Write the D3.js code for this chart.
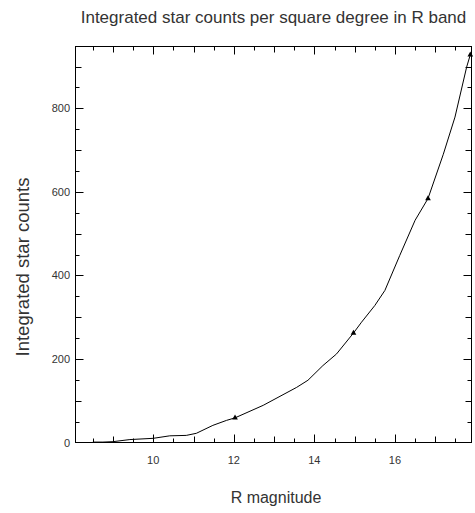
<!DOCTYPE html>
<html>
<head>
<meta charset="utf-8">
<script src="https://cdn.jsdelivr.net/npm/d3@7"></script>
<style>
  body { margin: 0; background: #fff; }
  text { font-family: "Liberation Sans", Arial, sans-serif; fill: #333; }
</style>
</head>
<body>
<svg id="chart"></svg>
<script>
var width = 475, height = 513;

// curve
var magnitudes = [8.5, 8.75, 9.0, 9.42, 10.0, 10.41, 10.82, 11.07, 11.48, 11.82, 12.03,
    12.73, 13.56, 13.84, 14.21, 14.55, 14.97, 15.17, 15.5, 15.75, 16.12, 16.5, 16.82,
    17.2, 17.49, 17.78, 17.87];
var counts = [1, 1, 2, 7, 10, 16, 17, 22, 41, 53, 59,
    89, 132, 149, 184, 212, 262, 288, 328, 364, 448, 532, 584,
    690, 779, 899, 928];

// the marked points
var markMags = [12.03, 14.97, 16.82, 17.87];
var markCounts = [59, 262, 584, 928];

var xTicks = [10, 12, 14, 16];
var yTicks = [0, 200, 400, 600, 800];

var svg = d3.select("#chart")
    .attr("width", width)
    .attr("height", height);

var plotL = 75.5, plotR = 471.5, plotT = 46.5, plotB = 442.5;

var x = d3.scaleLinear().domain([8.07, 17.9]).range([plotL, plotR]);
var y = d3.scaleLinear().domain([0, 948]).range([plotB, plotT]);

// frame
svg.append("rect")
    .attr("x", plotL).attr("y", plotT)
    .attr("width", plotR - plotL).attr("height", plotB - plotT)
    .attr("fill", "none").attr("stroke", "#000").attr("stroke-width", 1);

// x ticks every 0.5, inward on bottom and top
var xMinor = d3.range(8.5, 17.9, 0.5);
function xLen(v) {
    if (v % 2 == 0) return 8;
    if (v % 1 == 0) return 6;
    return 4;
}
svg.selectAll("line.xb").data(xMinor).enter().append("line")
    .attr("class", "xb")
    .attr("x1", d => Math.round(x(d)) + 0.5).attr("x2", d => Math.round(x(d)) + 0.5)
    .attr("y1", plotB).attr("y2", d => plotB - xLen(d))
    .attr("stroke", "#000");
svg.selectAll("line.xt").data(xMinor).enter().append("line")
    .attr("class", "xt")
    .attr("x1", d => Math.round(x(d)) + 0.5).attr("x2", d => Math.round(x(d)) + 0.5)
    .attr("y1", plotT).attr("y2", d => plotT + xLen(d))
    .attr("stroke", "#000");

// y ticks every 50, inward on left and right
var yMinor = d3.range(50, 948, 50);
function yLen(v) {
    if (v % 200 == 0) return 8;
    if (v % 100 == 0) return 6;
    return 4;
}
svg.selectAll("line.yl").data(yMinor).enter().append("line")
    .attr("class", "yl")
    .attr("y1", d => Math.round(y(d)) + 0.5).attr("y2", d => Math.round(y(d)) + 0.5)
    .attr("x1", plotL).attr("x2", d => plotL + yLen(d))
    .attr("stroke", "#000");
svg.selectAll("line.yr").data(yMinor).enter().append("line")
    .attr("class", "yr")
    .attr("y1", d => Math.round(y(d)) + 0.5).attr("y2", d => Math.round(y(d)) + 0.5)
    .attr("x1", plotR).attr("x2", d => plotR - yLen(d))
    .attr("stroke", "#000");

// tick labels
svg.selectAll("text.xlab").data(xTicks).enter().append("text")
    .attr("class", "xlab")
    .attr("x", d => x(d)).attr("y", 464)
    .attr("text-anchor", "middle")
    .style("font-size", "11px")
    .text(d => d);

svg.selectAll("text.ylab").data(yTicks).enter().append("text")
    .attr("class", "ylab")
    .attr("x", 70).attr("y", d => y(d) + 4)
    .attr("text-anchor", "end")
    .style("font-size", "11px")
    .text(d => d);

// curve
var pts = magnitudes.map((m, i) => [m, counts[i]]);
var line = d3.line().x(d => x(d[0])).y(d => y(d[1]));
svg.append("path")
    .datum(pts)
    .attr("d", line)
    .attr("fill", "none")
    .attr("stroke", "#000")
    .attr("stroke-width", 1);

// markers
var marks = markMags.map((m, i) => [m, markCounts[i]]);
svg.selectAll("path.mark").data(marks).enter().append("path")
    .attr("class", "mark")
    .attr("d", d3.symbol().type(d3.symbolTriangle).size(14))
    .attr("transform", d => "translate(" + x(d[0]) + "," + y(d[1]) + ")")
    .attr("fill", "#000");

// titles
svg.append("text")
    .attr("x", 273.5).attr("y", 23)
    .attr("text-anchor", "middle")
    .style("font-size", "17px")
    .text("Integrated star counts per square degree in R band");

svg.append("text")
    .attr("x", 276).attr("y", 503)
    .attr("text-anchor", "middle")
    .style("font-size", "16px")
    .text("R magnitude");

svg.append("text")
    .attr("transform", "translate(29,267) rotate(-90)")
    .attr("text-anchor", "middle")
    .style("font-size", "18.5px")
    .text("Integrated star counts");
</script>
</body>
</html>
